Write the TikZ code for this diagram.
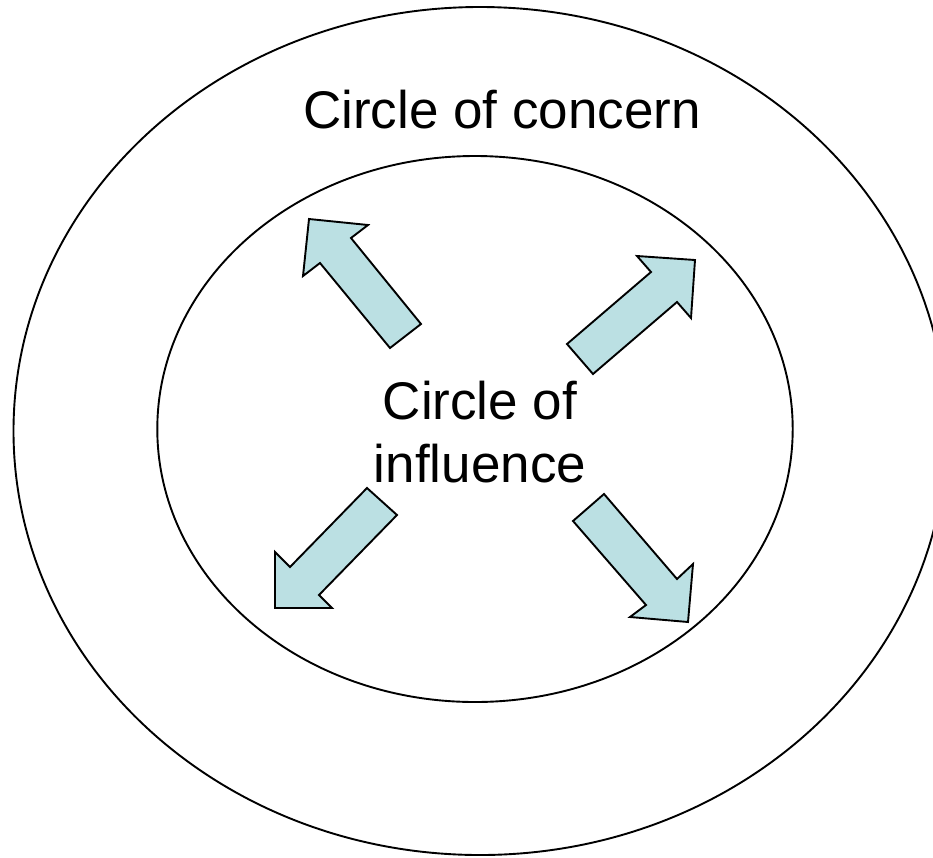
\documentclass[tikz,border=0pt]{standalone}
\usepackage{fontspec}
\setmainfont{Liberation Sans}
\begin{document}
\begin{tikzpicture}[x=1pt,y=-1pt,
  ring/.style={draw=black,line width=1.9pt},
  blockarrow/.style={draw=black,line width=1.9pt,fill=arrowfill,line join=miter},
  label/.style={font=\fontsize{53}{63}\selectfont,text=black,inner sep=0pt}]
\definecolor{arrowfill}{HTML}{BBE0E3}
\useasboundingbox (0,0) rectangle (933,857);
\clip (0,0) rectangle (933,857);
\draw[ring] (480,431) ellipse [x radius=466.5, y radius=424];
\draw[ring] (475,429) ellipse [x radius=317.7, y radius=273];
\node[label,anchor=base] (concern) at (502,128) {Circle of concern};
\node[label,anchor=base] (influence1) at (480,419) {Circle of};
\node[label,anchor=base] (influence2) at (480,482) {influence};
% up-left arrow
\draw[blockarrow] (309,219) -- (368,225) -- (351,238) -- (421,324) -- (390,348) -- (320,263) -- (303,276) -- cycle;
% up-right arrow
\draw[blockarrow] (695,260) -- (691,318) -- (677,302) -- (593,374) -- (567,344) -- (651,272) -- (637,256) -- cycle;
% down-left arrow
\draw[blockarrow] (275,608) -- (275,552) -- (290,567) -- (367,488) -- (397,515) -- (319,595) -- (332,608) -- cycle;
% down-right arrow
\draw[blockarrow] (688,622) -- (630,617) -- (646,605) -- (573,521) -- (604,494) -- (677,579) -- (693,564) -- cycle;
\end{tikzpicture}
\end{document}
